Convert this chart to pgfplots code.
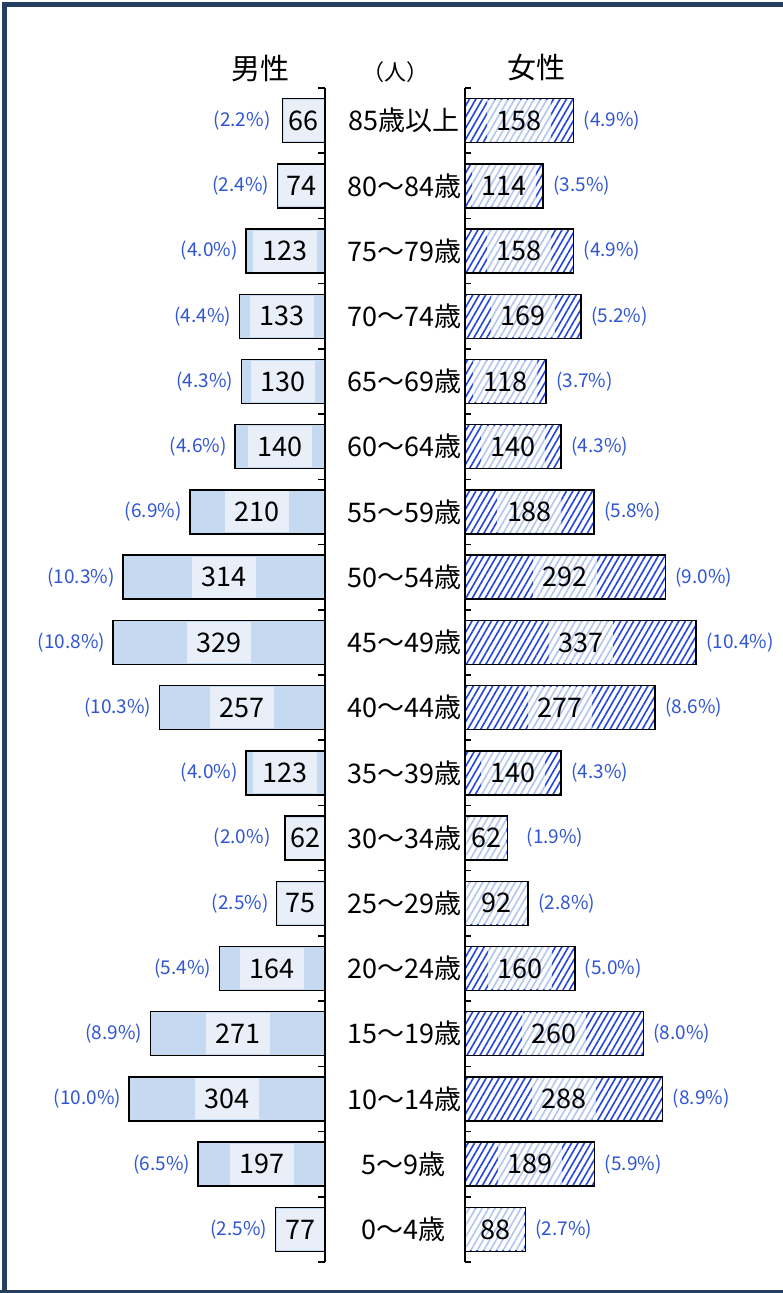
\documentclass[border=0pt]{standalone}
\usepackage{pgfplots}
\pgfplotsset{compat=1.18}
\usepackage{pgfplotstable}
\usepackage{fontspec}
\setmainfont{Noto Sans CJK JP}
\usetikzlibrary{patterns.meta}
\definecolor{frame}{HTML}{243F60}
\definecolor{mdark}{HTML}{C5D9F1}
\definecolor{mlight}{HTML}{E9EFF8}
\definecolor{fhatch}{HTML}{2446DA}
\definecolor{flight}{HTML}{B3C6EE}
\definecolor{pctblue}{HTML}{2F55D4}
\pgfkeys{/pgf/number format/assume math mode=true}
\pgfplotstableread{
y m mp f fp
17 66 2.2 158 4.9
16 74 2.4 114 3.5
15 123 4.0 158 4.9
14 133 4.4 169 5.2
13 130 4.3 118 3.7
12 140 4.6 140 4.3
11 210 6.9 188 5.8
10 314 10.3 292 9.0
9 329 10.8 337 10.4
8 257 10.3 277 8.6
7 123 4.0 140 4.3
6 62 2.0 62 1.9
5 75 2.5 92 2.8
4 164 5.4 160 5.0
3 271 8.9 260 8.0
2 304 10.0 288 8.9
1 197 6.5 189 5.9
0 77 2.5 88 2.7
}\data
\newcommand{\numfont}{\fontsize{27pt}{30pt}\selectfont}
\newcommand{\pctfont}{\fontsize{19pt}{22pt}\selectfont}
\begin{document}
\begin{tikzpicture}[x=1pt,y=1pt]
\useasboundingbox (0,0) rectangle (783,1293);
\fill[white] (0,0) rectangle (783,1293);
% frame
\draw[frame, line width=5pt] (4.5,0) -- (4.5,1288.5) -- (783,1288.5);
\draw[frame, line width=3pt] (0,1.5) -- (783,1.5);
% headers
\node[font=\fontsize{29pt}{32pt}\selectfont] at (260,1225) {男性};
\node[font=\fontsize{29pt}{32pt}\selectfont] at (536,1225) {女性};
\node[font=\fontsize{22pt}{25pt}\selectfont] at (395,1221) {（人）};
% male axis
\begin{axis}[
  at={(325pt,31pt)}, anchor=south east,
  scale only axis, width=322pt, height=1174pt,
  xmin=-500, xmax=0, ymin=-0.5, ymax=17.5,
  axis x line=none, axis y line*=right,
  axis line style={line width=1.8pt},
  ytick={-0.5,0.5,...,17.5}, yticklabel={\mbox{}},
  major tick length=7pt, tick align=inside,
  every tick/.style={black, line width=1.6pt},
  clip=false,
]
\addplot[xbar, bar width=0.675, bar shift=0pt, fill=mdark, draw=black, line width=1.5pt]
  table[x expr={-\thisrow{m}}, y=y] {\data};
\addplot[draw=none, mark=none, point meta=explicit,
  visualization depends on={x \as \xx},
  nodes near coords={\pgfmathprintnumber{\pgfplotspointmeta}},
  every node near coord/.style={anchor=center, fill=mlight, inner sep=0pt,
    minimum height=41pt, minimum width={min(64,-1.288*\xx-2.5)}, font=\numfont, text=black}]
  table[x expr={-\thisrow{m}/2}, y=y, meta=m] {\data};
\addplot[draw=none, mark=none, point meta=explicit,
  nodes near coords={(\pgfmathprintnumber[fixed,fixed zerofill,precision=1]{\pgfplotspointmeta}\%)},
  every node near coord/.style={anchor=east, xshift=-8pt, inner sep=0pt, font=\pctfont, text=pctblue}]
  table[x expr={-max(\thisrow{m},72)}, y=y, meta=mp] {\data};
\end{axis}
% female axis
\begin{axis}[
  at={(465pt,31pt)}, anchor=south west,
  scale only axis, width=343pt, height=1174pt,
  xmin=0, xmax=500, ymin=-0.5, ymax=17.5,
  axis x line=none, axis y line*=left,
  axis line style={line width=1.8pt},
  ytick={0,...,17},
  yticklabels={0～4歳,5～9歳,10～14歳,15～19歳,20～24歳,25～29歳,30～34歳,35～39歳,40～44歳,45～49歳,50～54歳,55～59歳,60～64歳,65～69歳,70～74歳,75～79歳,80～84歳,85歳以上},
  yticklabel style={anchor=east, text width=112pt, align=center, inner sep=0pt, xshift=-5pt, font=\numfont, text=black},
  minor ytick={-0.5,0.5,...,17.5},
  major tick length=0pt, minor tick length=6pt, tick align=inside,
  every tick/.style={black, line width=1.6pt},
  clip=false,
]
\addplot[xbar, bar width=0.675, bar shift=0pt, draw=black, line width=1.5pt,
  pattern={Lines[angle=60,distance=5.6pt,line width=1.6pt]}, pattern color=fhatch]
  table[x=f, y=y] {\data};
\addplot[draw=none, mark=none, point meta=explicit,
  visualization depends on={x \as \xx},
  nodes near coords={\pgfmathprintnumber{\pgfplotspointmeta}},
  every node near coord/.style={anchor=center, preaction={fill=white},
    pattern={Lines[angle=60,distance=5.6pt,line width=1.6pt]}, pattern color=flight,
    inner sep=0pt, minimum height=41pt, minimum width={min(64,1.372*\xx-2.5)}, font=\numfont, text=black}]
  table[x expr={\thisrow{f}/2}, y=y, meta=f] {\data};
\addplot[draw=none, mark=none, point meta=explicit,
  nodes near coords={(\pgfmathprintnumber[fixed,fixed zerofill,precision=1]{\pgfplotspointmeta}\%)},
  every node near coord/.style={anchor=west, xshift=10pt, inner sep=0pt, font=\pctfont, text=pctblue}]
  table[x expr={max(\thisrow{f},75)}, y=y, meta=fp] {\data};
\end{axis}
\end{tikzpicture}
\end{document}
